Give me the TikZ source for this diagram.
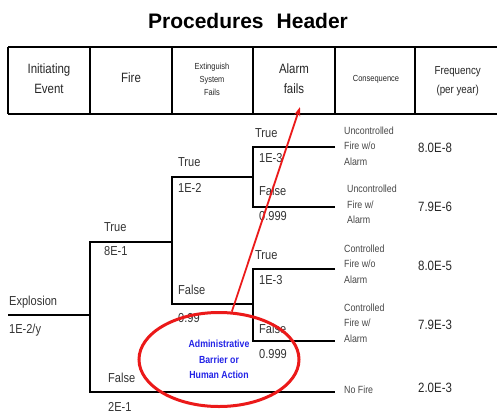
\documentclass[tikz,border=0pt]{standalone}
\usepackage{fontspec}
\setmainfont[FakeStretch=0.85]{Liberation Sans}
\newfontfamily\titlefont{Liberation Sans}
\usetikzlibrary{arrows.meta,shapes.geometric}
\definecolor{barrierblue}{RGB}{35,35,230}
\definecolor{markred}{RGB}{235,25,25}

\begin{document}
\begin{tikzpicture}[x=1pt,y=-1pt,line width=2.3pt,
    lbl/.style={anchor=base west,inner sep=0pt,text=black!80,font=\fontsize{13}{15}\selectfont},
    cons/.style={anchor=west,inner sep=0pt,align=left,text=black!72,font=\fontsize{10.4}{15.5}\selectfont},
    freq/.style={anchor=base west,inner sep=0pt,text=black!85,font=\fontsize{13.5}{15}\selectfont},
    head/.style={inner sep=0pt,align=center,text=black!85,font=\fontsize{13.5}{20}\selectfont},
    smallhead/.style={head,font=\fontsize{8.8}{13}\selectfont}]
    \useasboundingbox (0,0) rectangle (497,415);

    % Title
    \node[anchor=base,font=\titlefont\bfseries\fontsize{21}{24}\selectfont] (title) at (248,28.3) {Procedures\hspace{13pt}Header};

    % Header
    \node[head] (init) at (49,79) {Initiating\\Event};
    \node[head,anchor=base] (fire) at (131,82.7) {Fire};
    \node[smallhead] (ext) at (212,79) {Extinguish\\System\\Fails};
    \node[head] (alarm) at (294,79) {Alarm\\fails};
    \node[smallhead,anchor=base] (csq) at (376,81.7) {Consequence};
    \node[head,font=\fontsize{11.5}{19.3}\selectfont] (freqh) at (457.7,81) {Frequency\\(per year)};
    \draw (8,47) -- (497,47) (8,114) -- (497,114);
    \foreach \x in {8,90,172,253,335,415}
        \draw (\x,47) -- (\x,114);

    % Tree points
    \coordinate (ex0) at (8,315);
    \coordinate (ex1) at (90,315);
    \coordinate (ft) at (90,242);
    \coordinate (ff) at (90,392);
    \coordinate (fi1) at (172,242);
    \coordinate (nofire) at (335,392);
    \coordinate (xt) at (172,177);
    \coordinate (xf) at (172,304);
    \coordinate (al1) at (253,177);
    \coordinate (al0) at (253,304);
    \coordinate (a1) at (253,147);
    \coordinate (a2) at (253,207);
    \coordinate (a3) at (253,269);
    \coordinate (a4) at (253,341);
    \coordinate (c1) at (335,147);
    \coordinate (c2) at (335,207);
    \coordinate (c3) at (335,269);
    \coordinate (c4) at (335,341);

    % Branches
    \draw (ex0) -- (ex1);
    \draw (fi1) -- (ft) -- (ff) -- (nofire);
    \draw (al1) -- (xt) -- (xf) -- (al0);
    \draw (c1) -- (a1) -- (a2) -- (c2);
    \draw (c3) -- (a3) -- (a4) -- (c4);

    % Branch labels
    \node[lbl] (expl) at (8,305) {Explosion};
    \node[lbl] (explp) at (8,333.3) {1E-2/y};
    \node[lbl] (firet) at (103,231) {True};
    \node[lbl] (firetp) at (103,255.7) {8E-1};
    \node[lbl] (firef) at (107,382.7) {False};
    \node[lbl] (firefp) at (107,411.7) {2E-1};
    \node[lbl] (extt) at (177,166.7) {True};
    \node[lbl] (exttp) at (177,192) {1E-2};
    \node[lbl] (extf) at (177,294.3) {False};
    \node[lbl] (extfp) at (177,322.7) {0.99};
    \node[lbl] (alt1) at (254,137) {True};
    \node[lbl] (alt1p) at (258,162) {1E-3};
    \node[lbl] (alf1) at (258,195.7) {False};
    \node[lbl] (alf1p) at (258,220.7) {0.999};
    \node[lbl] (alt2) at (254,259.3) {True};
    \node[lbl] (alt2p) at (258,284) {1E-3};
    \node[lbl] (alf2) at (258,333.3) {False};
    \node[lbl] (alf2p) at (258,358.3) {0.999};

    % Consequences and frequencies
    \node[cons] (q1) at (343,145.8) {Uncontrolled\\Fire w/o\\Alarm};
    \node[cons] (q2) at (346,204.5) {Uncontrolled\\Fire w/\\Alarm};
    \node[cons] (q3) at (343,264.1) {Controlled\\Fire w/o\\Alarm};
    \node[cons] (q4) at (343,322.8) {Controlled\\Fire w/\\Alarm};
    \node[cons,anchor=base west] (q5) at (343,393.3) {No Fire};
    \node[freq] (p1) at (417,152) {8.0E-8};
    \node[freq] (p2) at (417,211) {7.9E-6};
    \node[freq] (p3) at (417,270) {8.0E-5};
    \node[freq] (p4) at (417,329) {7.9E-3};
    \node[freq] (p5) at (417,392.7) {2.0E-3};

    % Barrier
    \node[draw=markred,line width=3pt,ellipse,minimum width=160,minimum height=94,inner sep=0pt,
        align=center,text=barrierblue,font=\bfseries\fontsize{10.3}{15.3}\selectfont]
        (barrier) at (219,359.5) {Administrative\\Barrier or\\Human Action};
    \coordinate (alarmtip) at (300,107);
    \draw[markred,line width=1.8pt,-{Stealth[length=9pt,width=6pt]}] (barrier.75) -- (alarmtip);
\end{tikzpicture}
\end{document}
